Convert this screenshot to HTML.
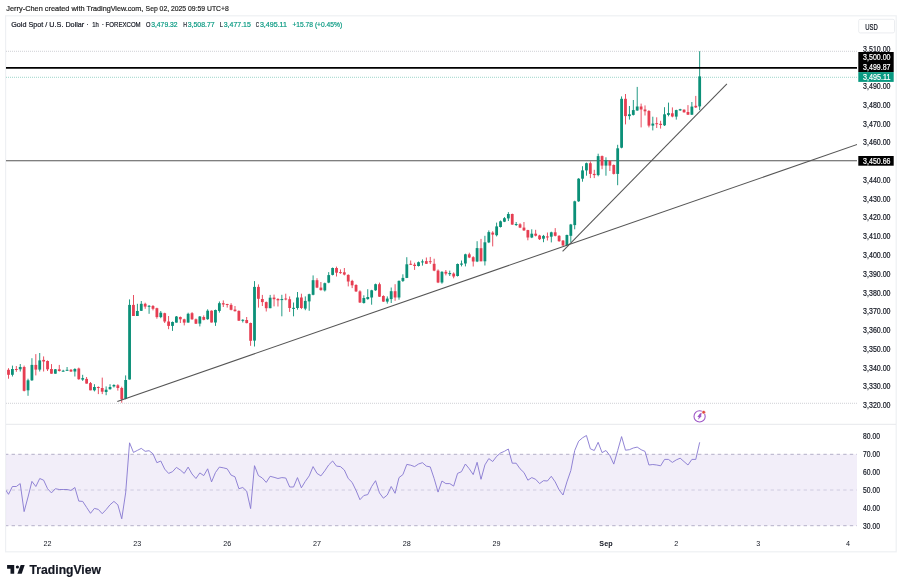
<!DOCTYPE html>
<html><head><meta charset="utf-8"><style>
html,body{margin:0;padding:0;background:#fff;}
body{width:903px;height:588px;overflow:hidden;}
svg{display:block;font-family:"Liberation Sans", sans-serif;filter:blur(0.3px);}
</style></head><body>
<svg width="903" height="588" viewBox="0 0 903 588">
<defs><clipPath id="pc"><rect x="6" y="16" width="851" height="408"/></clipPath><clipPath id="rc"><rect x="6" y="425" width="851" height="107"/></clipPath></defs>
<rect x="5.6" y="15.8" width="890.6" height="536" fill="none" stroke="#eef0f3" stroke-width="1.2"/>
<line x1="6" y1="424.3" x2="896" y2="424.3" stroke="#e6e8ec" stroke-width="1"/>
<g clip-path="url(#pc)">
<line x1="6" y1="51.3" x2="857" y2="51.3" stroke="#c3c5cc" stroke-width="0.8" stroke-dasharray="1 1"/>
<line x1="6" y1="403.3" x2="857" y2="403.3" stroke="#c3c5cc" stroke-width="0.8" stroke-dasharray="1 1"/>
<line x1="6" y1="77.3" x2="857" y2="77.3" stroke="#86cbbd" stroke-width="0.8" stroke-dasharray="1 1"/>
<line x1="6" y1="160.7" x2="858" y2="160.7" stroke="#555" stroke-width="1.1"/>
<rect x="8.05" y="368.20" width="0.9" height="10.50" fill="#e63e52"/>
<rect x="7.10" y="369.80" width="2.8" height="5.00" fill="#e63e52"/>
<rect x="11.96" y="365.60" width="0.9" height="10.90" fill="#0b9078"/>
<rect x="11.00" y="369.00" width="2.8" height="5.80" fill="#0b9078"/>
<rect x="15.86" y="366.00" width="0.9" height="5.80" fill="#e63e52"/>
<rect x="14.91" y="369.00" width="2.8" height="1.00" fill="#e63e52"/>
<rect x="19.77" y="364.00" width="0.9" height="7.50" fill="#0b9078"/>
<rect x="18.82" y="367.00" width="2.8" height="2.30" fill="#0b9078"/>
<rect x="23.67" y="365.60" width="0.9" height="25.80" fill="#e63e52"/>
<rect x="22.72" y="367.00" width="2.8" height="23.80" fill="#e63e52"/>
<rect x="27.57" y="378.70" width="0.9" height="17.10" fill="#0b9078"/>
<rect x="26.62" y="380.30" width="2.8" height="10.00" fill="#0b9078"/>
<rect x="31.48" y="358.20" width="0.9" height="22.70" fill="#0b9078"/>
<rect x="30.53" y="364.90" width="2.8" height="15.40" fill="#0b9078"/>
<rect x="35.38" y="354.10" width="0.9" height="21.30" fill="#e63e52"/>
<rect x="34.43" y="364.90" width="2.8" height="4.70" fill="#e63e52"/>
<rect x="39.29" y="353.00" width="0.9" height="18.50" fill="#0b9078"/>
<rect x="38.34" y="360.40" width="2.8" height="9.20" fill="#0b9078"/>
<rect x="43.19" y="356.40" width="0.9" height="15.10" fill="#e63e52"/>
<rect x="42.24" y="359.90" width="2.8" height="1.60" fill="#e63e52"/>
<rect x="47.10" y="360.40" width="0.9" height="10.60" fill="#e63e52"/>
<rect x="46.15" y="361.00" width="2.8" height="8.30" fill="#e63e52"/>
<rect x="51.00" y="364.10" width="0.9" height="9.60" fill="#e63e52"/>
<rect x="50.05" y="369.00" width="2.8" height="4.70" fill="#e63e52"/>
<rect x="54.91" y="369.00" width="0.9" height="4.70" fill="#0b9078"/>
<rect x="53.96" y="369.30" width="2.8" height="4.40" fill="#0b9078"/>
<rect x="58.81" y="364.90" width="0.9" height="6.60" fill="#e63e52"/>
<rect x="57.87" y="369.30" width="2.8" height="1.70" fill="#e63e52"/>
<rect x="62.72" y="369.80" width="0.9" height="1.70" fill="#0b9078"/>
<rect x="61.77" y="370.70" width="2.8" height="1.00" fill="#0b9078"/>
<rect x="66.62" y="367.00" width="0.9" height="3.70" fill="#0b9078"/>
<rect x="65.67" y="369.80" width="2.8" height="1.00" fill="#0b9078"/>
<rect x="70.53" y="369.00" width="0.9" height="3.00" fill="#e63e52"/>
<rect x="69.58" y="369.80" width="2.8" height="1.70" fill="#e63e52"/>
<rect x="74.43" y="368.20" width="0.9" height="8.30" fill="#0b9078"/>
<rect x="73.48" y="369.00" width="2.8" height="2.50" fill="#0b9078"/>
<rect x="78.34" y="367.60" width="0.9" height="12.20" fill="#e63e52"/>
<rect x="77.39" y="368.50" width="2.8" height="10.70" fill="#e63e52"/>
<rect x="82.24" y="374.80" width="0.9" height="6.10" fill="#0b9078"/>
<rect x="81.29" y="378.10" width="2.8" height="1.50" fill="#0b9078"/>
<rect x="86.15" y="377.00" width="0.9" height="6.60" fill="#e63e52"/>
<rect x="85.20" y="378.90" width="2.8" height="4.70" fill="#e63e52"/>
<rect x="90.05" y="382.00" width="0.9" height="8.30" fill="#e63e52"/>
<rect x="89.10" y="383.10" width="2.8" height="7.20" fill="#e63e52"/>
<rect x="93.96" y="384.20" width="0.9" height="7.20" fill="#0b9078"/>
<rect x="93.01" y="387.00" width="2.8" height="3.30" fill="#0b9078"/>
<rect x="97.86" y="386.40" width="0.9" height="7.70" fill="#e63e52"/>
<rect x="96.91" y="387.00" width="2.8" height="1.00" fill="#e63e52"/>
<rect x="101.77" y="377.60" width="0.9" height="16.50" fill="#e63e52"/>
<rect x="100.82" y="388.00" width="2.8" height="3.70" fill="#e63e52"/>
<rect x="105.67" y="386.40" width="0.9" height="8.80" fill="#0b9078"/>
<rect x="104.72" y="389.70" width="2.8" height="2.30" fill="#0b9078"/>
<rect x="109.58" y="384.20" width="0.9" height="5.50" fill="#0b9078"/>
<rect x="108.63" y="387.00" width="2.8" height="2.20" fill="#0b9078"/>
<rect x="113.48" y="384.20" width="0.9" height="3.30" fill="#0b9078"/>
<rect x="112.53" y="385.00" width="2.8" height="1.40" fill="#0b9078"/>
<rect x="117.39" y="384.20" width="0.9" height="6.40" fill="#e63e52"/>
<rect x="116.44" y="385.30" width="2.8" height="2.70" fill="#e63e52"/>
<rect x="121.29" y="386.70" width="0.9" height="16.00" fill="#e63e52"/>
<rect x="120.34" y="388.00" width="2.8" height="11.30" fill="#e63e52"/>
<rect x="125.20" y="375.40" width="0.9" height="23.90" fill="#0b9078"/>
<rect x="124.25" y="380.00" width="2.8" height="18.90" fill="#0b9078"/>
<rect x="129.11" y="299.40" width="0.9" height="80.10" fill="#0b9078"/>
<rect x="128.16" y="304.90" width="2.8" height="74.60" fill="#0b9078"/>
<rect x="133.01" y="295.00" width="0.9" height="21.00" fill="#e63e52"/>
<rect x="132.06" y="304.90" width="2.8" height="11.10" fill="#e63e52"/>
<rect x="136.91" y="303.80" width="0.9" height="12.20" fill="#0b9078"/>
<rect x="135.96" y="311.00" width="2.8" height="5.00" fill="#0b9078"/>
<rect x="140.82" y="301.00" width="0.9" height="10.00" fill="#0b9078"/>
<rect x="139.87" y="303.80" width="2.8" height="7.00" fill="#0b9078"/>
<rect x="144.72" y="302.70" width="0.9" height="6.10" fill="#e63e52"/>
<rect x="143.77" y="303.80" width="2.8" height="2.80" fill="#e63e52"/>
<rect x="148.63" y="305.00" width="0.9" height="8.80" fill="#0b9078"/>
<rect x="147.68" y="305.80" width="2.8" height="1.00" fill="#0b9078"/>
<rect x="152.53" y="305.00" width="0.9" height="5.40" fill="#e63e52"/>
<rect x="151.58" y="306.00" width="2.8" height="2.80" fill="#e63e52"/>
<rect x="156.44" y="307.70" width="0.9" height="11.00" fill="#e63e52"/>
<rect x="155.49" y="308.20" width="2.8" height="8.90" fill="#e63e52"/>
<rect x="160.34" y="311.00" width="0.9" height="7.20" fill="#0b9078"/>
<rect x="159.39" y="312.70" width="2.8" height="4.40" fill="#0b9078"/>
<rect x="164.25" y="312.70" width="0.9" height="10.30" fill="#e63e52"/>
<rect x="163.30" y="313.20" width="2.8" height="8.30" fill="#e63e52"/>
<rect x="168.16" y="316.00" width="0.9" height="13.20" fill="#e63e52"/>
<rect x="167.20" y="321.50" width="2.8" height="4.40" fill="#e63e52"/>
<rect x="172.06" y="321.50" width="0.9" height="9.40" fill="#0b9078"/>
<rect x="171.11" y="322.00" width="2.8" height="3.90" fill="#0b9078"/>
<rect x="175.97" y="316.00" width="0.9" height="6.60" fill="#0b9078"/>
<rect x="175.01" y="316.50" width="2.8" height="6.10" fill="#0b9078"/>
<rect x="179.87" y="316.50" width="0.9" height="6.50" fill="#e63e52"/>
<rect x="178.92" y="317.00" width="2.8" height="2.30" fill="#e63e52"/>
<rect x="183.78" y="318.70" width="0.9" height="6.70" fill="#e63e52"/>
<rect x="182.82" y="319.30" width="2.8" height="3.30" fill="#e63e52"/>
<rect x="187.68" y="312.70" width="0.9" height="9.90" fill="#0b9078"/>
<rect x="186.73" y="313.80" width="2.8" height="8.80" fill="#0b9078"/>
<rect x="191.59" y="312.10" width="0.9" height="7.70" fill="#e63e52"/>
<rect x="190.63" y="313.20" width="2.8" height="6.10" fill="#e63e52"/>
<rect x="195.49" y="318.50" width="0.9" height="5.50" fill="#e63e52"/>
<rect x="194.54" y="319.30" width="2.8" height="4.40" fill="#e63e52"/>
<rect x="199.40" y="316.00" width="0.9" height="10.40" fill="#0b9078"/>
<rect x="198.44" y="316.50" width="2.8" height="7.10" fill="#0b9078"/>
<rect x="203.30" y="315.40" width="0.9" height="4.90" fill="#e63e52"/>
<rect x="202.35" y="317.00" width="2.8" height="2.80" fill="#e63e52"/>
<rect x="207.21" y="309.30" width="0.9" height="10.50" fill="#0b9078"/>
<rect x="206.25" y="310.70" width="2.8" height="8.50" fill="#0b9078"/>
<rect x="211.11" y="310.40" width="0.9" height="12.10" fill="#e63e52"/>
<rect x="210.16" y="310.70" width="2.8" height="11.80" fill="#e63e52"/>
<rect x="215.02" y="309.60" width="0.9" height="16.30" fill="#0b9078"/>
<rect x="214.06" y="310.00" width="2.8" height="12.50" fill="#0b9078"/>
<rect x="218.92" y="301.50" width="0.9" height="11.10" fill="#0b9078"/>
<rect x="217.97" y="303.20" width="2.8" height="7.70" fill="#0b9078"/>
<rect x="222.82" y="300.40" width="0.9" height="6.60" fill="#e63e52"/>
<rect x="221.87" y="303.20" width="2.8" height="1.30" fill="#e63e52"/>
<rect x="226.73" y="303.80" width="0.9" height="3.80" fill="#e63e52"/>
<rect x="225.78" y="304.00" width="2.8" height="1.00" fill="#e63e52"/>
<rect x="230.63" y="303.20" width="0.9" height="7.20" fill="#e63e52"/>
<rect x="229.68" y="304.90" width="2.8" height="4.90" fill="#e63e52"/>
<rect x="234.54" y="306.00" width="0.9" height="5.50" fill="#e63e52"/>
<rect x="233.59" y="309.60" width="2.8" height="1.60" fill="#e63e52"/>
<rect x="238.44" y="310.40" width="0.9" height="10.50" fill="#e63e52"/>
<rect x="237.49" y="310.90" width="2.8" height="9.80" fill="#e63e52"/>
<rect x="242.35" y="319.20" width="0.9" height="3.30" fill="#0b9078"/>
<rect x="241.40" y="319.80" width="2.8" height="1.00" fill="#0b9078"/>
<rect x="246.25" y="317.00" width="0.9" height="6.30" fill="#e63e52"/>
<rect x="245.30" y="320.00" width="2.8" height="3.10" fill="#e63e52"/>
<rect x="250.16" y="322.60" width="0.9" height="23.20" fill="#e63e52"/>
<rect x="249.21" y="323.00" width="2.8" height="17.80" fill="#e63e52"/>
<rect x="254.06" y="281.10" width="0.9" height="65.40" fill="#0b9078"/>
<rect x="253.11" y="286.90" width="2.8" height="53.70" fill="#0b9078"/>
<rect x="257.97" y="284.40" width="0.9" height="23.20" fill="#e63e52"/>
<rect x="257.02" y="286.90" width="2.8" height="11.90" fill="#e63e52"/>
<rect x="261.88" y="294.90" width="0.9" height="11.10" fill="#e63e52"/>
<rect x="260.93" y="299.00" width="2.8" height="3.10" fill="#e63e52"/>
<rect x="265.78" y="301.50" width="0.9" height="10.00" fill="#e63e52"/>
<rect x="264.83" y="302.10" width="2.8" height="6.10" fill="#e63e52"/>
<rect x="269.69" y="294.90" width="0.9" height="13.30" fill="#0b9078"/>
<rect x="268.74" y="297.70" width="2.8" height="10.50" fill="#0b9078"/>
<rect x="273.59" y="294.60" width="0.9" height="11.80" fill="#e63e52"/>
<rect x="272.64" y="297.60" width="2.8" height="1.60" fill="#e63e52"/>
<rect x="277.50" y="298.10" width="0.9" height="8.40" fill="#e63e52"/>
<rect x="276.55" y="299.00" width="2.8" height="1.30" fill="#e63e52"/>
<rect x="281.40" y="294.80" width="0.9" height="21.50" fill="#0b9078"/>
<rect x="280.45" y="299.00" width="2.8" height="1.10" fill="#0b9078"/>
<rect x="285.31" y="293.70" width="0.9" height="6.60" fill="#e63e52"/>
<rect x="284.36" y="298.50" width="2.8" height="1.00" fill="#e63e52"/>
<rect x="289.21" y="296.40" width="0.9" height="15.50" fill="#e63e52"/>
<rect x="288.26" y="299.20" width="2.8" height="8.80" fill="#e63e52"/>
<rect x="293.12" y="302.50" width="0.9" height="13.80" fill="#0b9078"/>
<rect x="292.17" y="307.80" width="2.8" height="1.10" fill="#0b9078"/>
<rect x="297.02" y="292.00" width="0.9" height="17.70" fill="#0b9078"/>
<rect x="296.07" y="297.50" width="2.8" height="10.50" fill="#0b9078"/>
<rect x="300.93" y="293.70" width="0.9" height="15.40" fill="#e63e52"/>
<rect x="299.98" y="297.50" width="2.8" height="10.50" fill="#e63e52"/>
<rect x="304.83" y="296.40" width="0.9" height="13.80" fill="#0b9078"/>
<rect x="303.88" y="300.90" width="2.8" height="7.70" fill="#0b9078"/>
<rect x="308.74" y="293.70" width="0.9" height="17.10" fill="#0b9078"/>
<rect x="307.79" y="294.20" width="2.8" height="7.20" fill="#0b9078"/>
<rect x="312.64" y="275.40" width="0.9" height="19.90" fill="#0b9078"/>
<rect x="311.69" y="280.20" width="2.8" height="14.60" fill="#0b9078"/>
<rect x="316.55" y="278.20" width="0.9" height="9.90" fill="#e63e52"/>
<rect x="315.60" y="280.20" width="2.8" height="7.40" fill="#e63e52"/>
<rect x="320.45" y="282.00" width="0.9" height="8.60" fill="#e63e52"/>
<rect x="319.50" y="287.60" width="2.8" height="2.50" fill="#e63e52"/>
<rect x="324.36" y="282.60" width="0.9" height="8.90" fill="#0b9078"/>
<rect x="323.41" y="283.20" width="2.8" height="7.20" fill="#0b9078"/>
<rect x="328.26" y="272.10" width="0.9" height="11.10" fill="#0b9078"/>
<rect x="327.31" y="275.10" width="2.8" height="7.50" fill="#0b9078"/>
<rect x="332.17" y="267.50" width="0.9" height="7.90" fill="#0b9078"/>
<rect x="331.22" y="268.00" width="2.8" height="6.90" fill="#0b9078"/>
<rect x="336.07" y="266.60" width="0.9" height="9.90" fill="#e63e52"/>
<rect x="335.12" y="268.00" width="2.8" height="4.70" fill="#e63e52"/>
<rect x="339.98" y="269.40" width="0.9" height="4.40" fill="#e63e52"/>
<rect x="339.03" y="272.10" width="2.8" height="1.00" fill="#e63e52"/>
<rect x="343.88" y="268.00" width="0.9" height="7.40" fill="#e63e52"/>
<rect x="342.93" y="272.30" width="2.8" height="2.30" fill="#e63e52"/>
<rect x="347.78" y="274.30" width="0.9" height="12.10" fill="#e63e52"/>
<rect x="346.83" y="274.90" width="2.8" height="6.60" fill="#e63e52"/>
<rect x="351.69" y="279.80" width="0.9" height="8.30" fill="#e63e52"/>
<rect x="350.74" y="280.90" width="2.8" height="4.40" fill="#e63e52"/>
<rect x="355.59" y="284.20" width="0.9" height="7.80" fill="#e63e52"/>
<rect x="354.64" y="285.00" width="2.8" height="6.40" fill="#e63e52"/>
<rect x="359.50" y="290.30" width="0.9" height="12.70" fill="#e63e52"/>
<rect x="358.55" y="291.40" width="2.8" height="11.10" fill="#e63e52"/>
<rect x="363.40" y="295.30" width="0.9" height="8.30" fill="#0b9078"/>
<rect x="362.45" y="298.00" width="2.8" height="5.00" fill="#0b9078"/>
<rect x="367.31" y="289.20" width="0.9" height="10.50" fill="#0b9078"/>
<rect x="366.36" y="297.00" width="2.8" height="2.10" fill="#0b9078"/>
<rect x="371.21" y="289.80" width="0.9" height="14.90" fill="#0b9078"/>
<rect x="370.26" y="290.30" width="2.8" height="7.20" fill="#0b9078"/>
<rect x="375.12" y="283.60" width="0.9" height="7.20" fill="#0b9078"/>
<rect x="374.17" y="284.20" width="2.8" height="6.10" fill="#0b9078"/>
<rect x="379.02" y="282.60" width="0.9" height="14.30" fill="#e63e52"/>
<rect x="378.07" y="284.20" width="2.8" height="12.50" fill="#e63e52"/>
<rect x="382.93" y="295.30" width="0.9" height="6.60" fill="#e63e52"/>
<rect x="381.98" y="296.00" width="2.8" height="5.60" fill="#e63e52"/>
<rect x="386.83" y="296.40" width="0.9" height="7.20" fill="#0b9078"/>
<rect x="385.88" y="298.60" width="2.8" height="3.00" fill="#0b9078"/>
<rect x="390.74" y="287.50" width="0.9" height="15.50" fill="#0b9078"/>
<rect x="389.79" y="291.20" width="2.8" height="7.90" fill="#0b9078"/>
<rect x="394.64" y="284.20" width="0.9" height="16.60" fill="#e63e52"/>
<rect x="393.69" y="291.20" width="2.8" height="6.30" fill="#e63e52"/>
<rect x="398.55" y="280.40" width="0.9" height="19.30" fill="#0b9078"/>
<rect x="397.60" y="280.90" width="2.8" height="16.60" fill="#0b9078"/>
<rect x="402.45" y="274.30" width="0.9" height="7.70" fill="#0b9078"/>
<rect x="401.50" y="277.90" width="2.8" height="3.00" fill="#0b9078"/>
<rect x="406.36" y="257.20" width="0.9" height="20.90" fill="#0b9078"/>
<rect x="405.41" y="264.30" width="2.8" height="13.60" fill="#0b9078"/>
<rect x="410.26" y="260.50" width="0.9" height="4.40" fill="#e63e52"/>
<rect x="409.31" y="263.80" width="2.8" height="1.00" fill="#e63e52"/>
<rect x="414.17" y="262.70" width="0.9" height="7.20" fill="#e63e52"/>
<rect x="413.22" y="264.70" width="2.8" height="1.30" fill="#e63e52"/>
<rect x="418.07" y="261.50" width="0.9" height="5.00" fill="#0b9078"/>
<rect x="417.12" y="262.20" width="2.8" height="3.80" fill="#0b9078"/>
<rect x="421.98" y="259.40" width="0.9" height="6.20" fill="#0b9078"/>
<rect x="421.03" y="261.40" width="2.8" height="1.00" fill="#0b9078"/>
<rect x="425.88" y="257.50" width="0.9" height="6.50" fill="#e63e52"/>
<rect x="424.94" y="261.10" width="2.8" height="2.70" fill="#e63e52"/>
<rect x="429.79" y="256.90" width="0.9" height="7.10" fill="#e63e52"/>
<rect x="428.84" y="261.20" width="2.8" height="1.00" fill="#e63e52"/>
<rect x="433.69" y="258.70" width="0.9" height="12.50" fill="#e63e52"/>
<rect x="432.75" y="263.80" width="2.8" height="6.80" fill="#e63e52"/>
<rect x="437.60" y="269.40" width="0.9" height="13.70" fill="#e63e52"/>
<rect x="436.65" y="270.60" width="2.8" height="11.90" fill="#e63e52"/>
<rect x="441.50" y="271.20" width="0.9" height="12.50" fill="#0b9078"/>
<rect x="440.56" y="271.80" width="2.8" height="10.70" fill="#0b9078"/>
<rect x="445.41" y="270.00" width="0.9" height="5.40" fill="#e63e52"/>
<rect x="444.46" y="271.80" width="2.8" height="1.80" fill="#e63e52"/>
<rect x="449.31" y="270.60" width="0.9" height="5.40" fill="#0b9078"/>
<rect x="448.37" y="273.00" width="2.8" height="1.20" fill="#0b9078"/>
<rect x="453.22" y="272.40" width="0.9" height="5.90" fill="#e63e52"/>
<rect x="452.27" y="273.60" width="2.8" height="2.90" fill="#e63e52"/>
<rect x="457.12" y="263.50" width="0.9" height="13.00" fill="#0b9078"/>
<rect x="456.18" y="264.00" width="2.8" height="12.00" fill="#0b9078"/>
<rect x="461.03" y="260.50" width="0.9" height="5.90" fill="#0b9078"/>
<rect x="460.08" y="263.50" width="2.8" height="1.20" fill="#0b9078"/>
<rect x="464.94" y="253.70" width="0.9" height="12.70" fill="#0b9078"/>
<rect x="463.99" y="254.30" width="2.8" height="9.20" fill="#0b9078"/>
<rect x="468.84" y="252.70" width="0.9" height="5.40" fill="#e63e52"/>
<rect x="467.89" y="254.30" width="2.8" height="3.20" fill="#e63e52"/>
<rect x="472.75" y="256.20" width="0.9" height="10.30" fill="#e63e52"/>
<rect x="471.80" y="257.20" width="2.8" height="4.30" fill="#e63e52"/>
<rect x="476.65" y="241.20" width="0.9" height="20.90" fill="#0b9078"/>
<rect x="475.70" y="248.10" width="2.8" height="13.40" fill="#0b9078"/>
<rect x="480.56" y="238.90" width="0.9" height="22.40" fill="#e63e52"/>
<rect x="479.61" y="248.20" width="2.8" height="13.10" fill="#e63e52"/>
<rect x="484.46" y="235.80" width="0.9" height="29.70" fill="#0b9078"/>
<rect x="483.51" y="242.30" width="2.8" height="19.00" fill="#0b9078"/>
<rect x="488.37" y="230.40" width="0.9" height="12.70" fill="#0b9078"/>
<rect x="487.42" y="232.10" width="2.8" height="10.30" fill="#0b9078"/>
<rect x="492.27" y="231.20" width="0.9" height="15.20" fill="#e63e52"/>
<rect x="491.32" y="232.60" width="2.8" height="2.00" fill="#e63e52"/>
<rect x="496.18" y="222.60" width="0.9" height="13.80" fill="#0b9078"/>
<rect x="495.23" y="226.40" width="2.8" height="8.80" fill="#0b9078"/>
<rect x="500.08" y="220.50" width="0.9" height="7.00" fill="#0b9078"/>
<rect x="499.13" y="221.30" width="2.8" height="5.70" fill="#0b9078"/>
<rect x="503.99" y="217.10" width="0.9" height="5.00" fill="#0b9078"/>
<rect x="503.04" y="218.20" width="2.8" height="3.50" fill="#0b9078"/>
<rect x="507.89" y="212.10" width="0.9" height="8.90" fill="#0b9078"/>
<rect x="506.94" y="214.00" width="2.8" height="4.40" fill="#0b9078"/>
<rect x="511.79" y="213.60" width="0.9" height="11.20" fill="#e63e52"/>
<rect x="510.84" y="214.00" width="2.8" height="10.60" fill="#e63e52"/>
<rect x="515.70" y="222.00" width="0.9" height="4.00" fill="#0b9078"/>
<rect x="514.75" y="224.00" width="2.8" height="1.00" fill="#0b9078"/>
<rect x="519.60" y="223.20" width="0.9" height="4.90" fill="#e63e52"/>
<rect x="518.65" y="224.30" width="2.8" height="3.30" fill="#e63e52"/>
<rect x="523.51" y="222.00" width="0.9" height="8.90" fill="#e63e52"/>
<rect x="522.56" y="227.60" width="2.8" height="2.80" fill="#e63e52"/>
<rect x="527.41" y="229.80" width="0.9" height="10.50" fill="#e63e52"/>
<rect x="526.47" y="230.10" width="2.8" height="7.40" fill="#e63e52"/>
<rect x="531.32" y="229.30" width="0.9" height="8.80" fill="#0b9078"/>
<rect x="530.37" y="233.70" width="2.8" height="3.80" fill="#0b9078"/>
<rect x="535.22" y="229.80" width="0.9" height="6.60" fill="#e63e52"/>
<rect x="534.27" y="233.70" width="2.8" height="2.00" fill="#e63e52"/>
<rect x="539.13" y="234.80" width="0.9" height="5.20" fill="#e63e52"/>
<rect x="538.18" y="235.50" width="2.8" height="3.70" fill="#e63e52"/>
<rect x="543.03" y="234.90" width="0.9" height="7.30" fill="#0b9078"/>
<rect x="542.09" y="235.90" width="2.8" height="2.80" fill="#0b9078"/>
<rect x="546.94" y="232.50" width="0.9" height="8.00" fill="#e63e52"/>
<rect x="545.99" y="236.40" width="2.8" height="1.10" fill="#e63e52"/>
<rect x="550.84" y="231.70" width="0.9" height="10.70" fill="#0b9078"/>
<rect x="549.89" y="232.30" width="2.8" height="4.40" fill="#0b9078"/>
<rect x="554.75" y="228.10" width="0.9" height="8.30" fill="#e63e52"/>
<rect x="553.80" y="232.30" width="2.8" height="3.50" fill="#e63e52"/>
<rect x="558.65" y="235.20" width="0.9" height="6.60" fill="#e63e52"/>
<rect x="557.71" y="235.80" width="2.8" height="5.40" fill="#e63e52"/>
<rect x="562.56" y="240.00" width="0.9" height="6.00" fill="#e63e52"/>
<rect x="561.61" y="240.60" width="2.8" height="4.80" fill="#e63e52"/>
<rect x="566.46" y="234.60" width="0.9" height="11.40" fill="#0b9078"/>
<rect x="565.51" y="235.00" width="2.8" height="10.40" fill="#0b9078"/>
<rect x="570.37" y="223.90" width="0.9" height="18.50" fill="#0b9078"/>
<rect x="569.42" y="224.50" width="2.8" height="11.30" fill="#0b9078"/>
<rect x="574.27" y="200.70" width="0.9" height="28.60" fill="#0b9078"/>
<rect x="573.33" y="201.30" width="2.8" height="23.80" fill="#0b9078"/>
<rect x="578.18" y="178.10" width="0.9" height="23.80" fill="#0b9078"/>
<rect x="577.23" y="178.70" width="2.8" height="22.60" fill="#0b9078"/>
<rect x="582.08" y="166.20" width="0.9" height="15.50" fill="#0b9078"/>
<rect x="581.13" y="170.40" width="2.8" height="8.30" fill="#0b9078"/>
<rect x="585.99" y="162.60" width="0.9" height="13.10" fill="#0b9078"/>
<rect x="585.04" y="163.20" width="2.8" height="7.20" fill="#0b9078"/>
<rect x="589.89" y="161.40" width="0.9" height="16.70" fill="#e63e52"/>
<rect x="588.95" y="163.20" width="2.8" height="10.70" fill="#e63e52"/>
<rect x="593.80" y="169.80" width="0.9" height="8.30" fill="#e63e52"/>
<rect x="592.85" y="173.90" width="2.8" height="1.20" fill="#e63e52"/>
<rect x="597.70" y="153.70" width="0.9" height="22.60" fill="#0b9078"/>
<rect x="596.75" y="156.10" width="2.8" height="19.00" fill="#0b9078"/>
<rect x="601.61" y="155.50" width="0.9" height="13.70" fill="#e63e52"/>
<rect x="600.66" y="156.10" width="2.8" height="9.50" fill="#e63e52"/>
<rect x="605.51" y="157.30" width="0.9" height="18.40" fill="#0b9078"/>
<rect x="604.56" y="160.20" width="2.8" height="5.40" fill="#0b9078"/>
<rect x="609.42" y="160.20" width="0.9" height="10.80" fill="#e63e52"/>
<rect x="608.47" y="160.80" width="2.8" height="4.80" fill="#e63e52"/>
<rect x="613.32" y="164.40" width="0.9" height="10.10" fill="#e63e52"/>
<rect x="612.38" y="165.00" width="2.8" height="8.90" fill="#e63e52"/>
<rect x="617.23" y="144.80" width="0.9" height="40.40" fill="#0b9078"/>
<rect x="616.28" y="148.30" width="2.8" height="25.60" fill="#0b9078"/>
<rect x="621.13" y="96.40" width="0.9" height="51.90" fill="#0b9078"/>
<rect x="620.18" y="98.80" width="2.8" height="48.90" fill="#0b9078"/>
<rect x="625.04" y="94.00" width="0.9" height="30.40" fill="#e63e52"/>
<rect x="624.09" y="98.80" width="2.8" height="17.30" fill="#e63e52"/>
<rect x="628.94" y="106.00" width="0.9" height="13.60" fill="#0b9078"/>
<rect x="628.00" y="114.30" width="2.8" height="1.80" fill="#0b9078"/>
<rect x="632.85" y="100.00" width="0.9" height="15.50" fill="#0b9078"/>
<rect x="631.90" y="110.10" width="2.8" height="4.80" fill="#0b9078"/>
<rect x="636.75" y="86.90" width="0.9" height="23.80" fill="#0b9078"/>
<rect x="635.80" y="106.50" width="2.8" height="4.00" fill="#0b9078"/>
<rect x="640.66" y="103.60" width="0.9" height="23.80" fill="#e63e52"/>
<rect x="639.71" y="106.50" width="2.8" height="3.00" fill="#e63e52"/>
<rect x="644.56" y="105.40" width="0.9" height="10.10" fill="#e63e52"/>
<rect x="643.62" y="109.50" width="2.8" height="1.80" fill="#e63e52"/>
<rect x="648.47" y="110.10" width="0.9" height="17.30" fill="#e63e52"/>
<rect x="647.52" y="111.00" width="2.8" height="14.60" fill="#e63e52"/>
<rect x="652.37" y="116.70" width="0.9" height="13.70" fill="#0b9078"/>
<rect x="651.42" y="123.60" width="2.8" height="2.00" fill="#0b9078"/>
<rect x="656.28" y="117.30" width="0.9" height="10.70" fill="#e63e52"/>
<rect x="655.33" y="123.20" width="2.8" height="1.00" fill="#e63e52"/>
<rect x="660.18" y="120.80" width="0.9" height="7.80" fill="#e63e52"/>
<rect x="659.24" y="123.80" width="2.8" height="1.20" fill="#e63e52"/>
<rect x="664.09" y="107.20" width="0.9" height="18.80" fill="#0b9078"/>
<rect x="663.14" y="114.30" width="2.8" height="11.00" fill="#0b9078"/>
<rect x="667.99" y="102.60" width="0.9" height="13.70" fill="#0b9078"/>
<rect x="667.04" y="113.10" width="2.8" height="1.80" fill="#0b9078"/>
<rect x="671.90" y="107.40" width="0.9" height="9.90" fill="#e63e52"/>
<rect x="670.95" y="113.30" width="2.8" height="3.20" fill="#e63e52"/>
<rect x="675.80" y="109.70" width="0.9" height="9.90" fill="#0b9078"/>
<rect x="674.86" y="110.10" width="2.8" height="6.50" fill="#0b9078"/>
<rect x="679.71" y="108.80" width="0.9" height="2.00" fill="#0b9078"/>
<rect x="678.76" y="109.20" width="2.8" height="1.20" fill="#0b9078"/>
<rect x="683.61" y="109.30" width="0.9" height="3.40" fill="#e63e52"/>
<rect x="682.66" y="109.70" width="2.8" height="2.60" fill="#e63e52"/>
<rect x="687.52" y="105.10" width="0.9" height="9.90" fill="#e63e52"/>
<rect x="686.57" y="112.00" width="2.8" height="2.70" fill="#e63e52"/>
<rect x="691.42" y="102.00" width="0.9" height="13.00" fill="#0b9078"/>
<rect x="690.48" y="106.60" width="2.8" height="8.10" fill="#0b9078"/>
<rect x="695.33" y="95.90" width="0.9" height="12.10" fill="#e63e52"/>
<rect x="694.38" y="105.80" width="2.8" height="1.60" fill="#e63e52"/>
<rect x="699.23" y="51.20" width="0.9" height="59.00" fill="#0b9078"/>
<rect x="698.28" y="76.40" width="2.8" height="30.00" fill="#0b9078"/>
<line x1="6" y1="67.8" x2="858" y2="67.8" stroke="#000" stroke-width="1.8"/>
<line x1="117.3" y1="401.4" x2="857.6" y2="144.3" stroke="#555" stroke-width="1.05"/>
<line x1="562.6" y1="251.3" x2="726.9" y2="83.8" stroke="#555" stroke-width="1.05"/>
</g>
<g clip-path="url(#rc)">
<rect x="6" y="454.3" width="851" height="71.4" fill="rgba(126,87,194,0.1)"/>
<line x1="6" y1="454.3" x2="857" y2="454.3" stroke="#b5b0c9" stroke-width="1" stroke-dasharray="3.4 3.2" stroke-dashoffset="1.0"/>
<line x1="6" y1="490" x2="857" y2="490" stroke="#d0cce0" stroke-width="1" stroke-dasharray="3.4 3.2" stroke-dashoffset="1.0"/>
<line x1="6" y1="525.7" x2="857" y2="525.7" stroke="#b5b0c9" stroke-width="1" stroke-dasharray="3.4 3.2" stroke-dashoffset="1.0"/>
<polyline points="4.60,488.30 8.50,494.30 12.40,486.50 16.31,486.50 20.21,483.60 24.12,511.60 28.02,497.00 31.93,481.40 35.83,486.50 39.74,478.50 43.64,480.20 47.55,488.70 51.45,492.90 55.36,488.70 59.27,489.50 63.17,489.50 67.07,489.50 70.98,490.40 74.88,487.50 78.79,501.10 82.69,501.40 86.60,507.40 90.50,513.30 94.41,508.40 98.31,509.40 102.22,513.70 106.12,509.60 110.03,504.80 113.93,501.40 117.84,504.80 121.74,518.80 125.65,492.90 129.56,442.80 133.46,452.40 137.36,450.40 141.27,448.40 145.17,451.30 149.08,450.70 152.98,453.80 156.89,462.70 160.79,461.00 164.70,469.10 168.60,473.40 172.51,471.70 176.41,467.40 180.32,470.00 184.22,473.40 188.13,467.10 192.03,474.00 195.94,478.50 199.84,472.90 203.75,475.60 207.66,468.80 211.56,481.90 215.47,472.50 219.37,467.10 223.27,467.80 227.18,468.80 231.08,475.10 234.99,476.80 238.89,488.70 242.80,487.50 246.70,491.20 250.61,508.60 254.51,465.70 258.42,475.60 262.32,478.00 266.23,482.40 270.13,476.30 274.04,477.30 277.94,478.50 281.85,477.60 285.75,478.00 289.66,487.00 293.56,487.00 297.47,477.60 301.38,487.80 305.28,481.40 309.19,475.90 313.09,466.60 317.00,473.40 320.90,475.90 324.81,470.80 328.71,464.90 332.62,461.00 336.52,466.10 340.43,466.60 344.33,470.00 348.23,478.50 352.14,482.40 356.04,490.40 359.95,499.70 363.85,495.50 367.76,494.60 371.66,486.50 375.57,480.70 379.47,492.90 383.38,498.20 387.28,495.00 391.19,486.50 395.09,493.30 399.00,477.60 402.90,474.60 406.81,464.40 410.71,465.20 414.62,466.60 418.52,464.00 422.43,462.70 426.33,466.10 430.24,466.90 434.14,478.50 438.05,492.10 441.95,481.00 445.86,483.60 449.76,483.60 453.67,486.10 457.57,473.40 461.48,471.70 465.38,464.00 469.29,468.80 473.19,474.60 477.10,462.30 481.00,479.30 484.91,464.90 488.81,458.60 492.72,461.50 496.62,456.40 500.53,453.00 504.44,451.30 508.34,449.00 512.24,463.20 516.15,463.20 520.05,468.80 523.96,472.50 527.87,480.20 531.77,477.60 535.67,479.30 539.58,483.60 543.49,480.70 547.39,481.00 551.29,476.30 555.20,481.90 559.11,489.90 563.01,495.00 566.91,481.90 570.82,470.60 574.73,450.50 578.63,441.20 582.53,437.80 586.44,435.50 590.35,448.80 594.25,450.50 598.15,442.30 602.06,452.60 605.96,450.50 609.87,455.60 613.77,464.10 617.68,450.50 621.58,436.60 625.49,450.20 629.39,449.70 633.30,448.00 637.20,447.10 641.11,449.70 645.01,451.40 648.92,465.00 652.82,464.50 656.73,465.00 660.63,465.80 664.54,459.40 668.44,459.40 672.35,462.40 676.25,459.90 680.16,458.20 684.06,461.60 687.97,465.00 691.88,459.40 695.78,459.40 699.68,442.30" fill="none" stroke="#8677d0" stroke-width="0.9" stroke-linejoin="round"/>
</g>
<g transform="translate(699.6,416.4)"><circle r="5.6" fill="#fff" stroke="#9d55c6" stroke-width="1.05"/><path d="M0.5,-3.2 L2.3,-3.2 L1.2,-0.7 L2.4,-0.7 L-1.6,3.4 L-0.7,0.6 L-2.3,0.6 Z" fill="#9d55c6"/><circle cx="4.1" cy="-4.2" r="1.75" fill="#e0473c" stroke="#fff" stroke-width="0.5"/></g>
<text x="863.10" y="51.60" font-size="8.2" fill="#131722" stroke="#131722" stroke-width="0.2" font-weight="normal" textLength="27.40" lengthAdjust="spacingAndGlyphs">3,510.00</text>
<text x="863.10" y="89.13" font-size="8.2" fill="#131722" stroke="#131722" stroke-width="0.2" font-weight="normal" textLength="27.40" lengthAdjust="spacingAndGlyphs">3,490.00</text>
<text x="863.10" y="107.89" font-size="8.2" fill="#131722" stroke="#131722" stroke-width="0.2" font-weight="normal" textLength="27.40" lengthAdjust="spacingAndGlyphs">3,480.00</text>
<text x="863.10" y="126.65" font-size="8.2" fill="#131722" stroke="#131722" stroke-width="0.2" font-weight="normal" textLength="27.40" lengthAdjust="spacingAndGlyphs">3,470.00</text>
<text x="863.10" y="145.41" font-size="8.2" fill="#131722" stroke="#131722" stroke-width="0.2" font-weight="normal" textLength="27.40" lengthAdjust="spacingAndGlyphs">3,460.00</text>
<text x="863.10" y="182.94" font-size="8.2" fill="#131722" stroke="#131722" stroke-width="0.2" font-weight="normal" textLength="27.40" lengthAdjust="spacingAndGlyphs">3,440.00</text>
<text x="863.10" y="201.70" font-size="8.2" fill="#131722" stroke="#131722" stroke-width="0.2" font-weight="normal" textLength="27.40" lengthAdjust="spacingAndGlyphs">3,430.00</text>
<text x="863.10" y="220.47" font-size="8.2" fill="#131722" stroke="#131722" stroke-width="0.2" font-weight="normal" textLength="27.40" lengthAdjust="spacingAndGlyphs">3,420.00</text>
<text x="863.10" y="239.23" font-size="8.2" fill="#131722" stroke="#131722" stroke-width="0.2" font-weight="normal" textLength="27.40" lengthAdjust="spacingAndGlyphs">3,410.00</text>
<text x="863.10" y="257.99" font-size="8.2" fill="#131722" stroke="#131722" stroke-width="0.2" font-weight="normal" textLength="27.40" lengthAdjust="spacingAndGlyphs">3,400.00</text>
<text x="863.10" y="276.76" font-size="8.2" fill="#131722" stroke="#131722" stroke-width="0.2" font-weight="normal" textLength="27.40" lengthAdjust="spacingAndGlyphs">3,390.00</text>
<text x="863.10" y="295.52" font-size="8.2" fill="#131722" stroke="#131722" stroke-width="0.2" font-weight="normal" textLength="27.40" lengthAdjust="spacingAndGlyphs">3,380.00</text>
<text x="863.10" y="314.28" font-size="8.2" fill="#131722" stroke="#131722" stroke-width="0.2" font-weight="normal" textLength="27.40" lengthAdjust="spacingAndGlyphs">3,370.00</text>
<text x="863.10" y="333.04" font-size="8.2" fill="#131722" stroke="#131722" stroke-width="0.2" font-weight="normal" textLength="27.40" lengthAdjust="spacingAndGlyphs">3,360.00</text>
<text x="863.10" y="351.81" font-size="8.2" fill="#131722" stroke="#131722" stroke-width="0.2" font-weight="normal" textLength="27.40" lengthAdjust="spacingAndGlyphs">3,350.00</text>
<text x="863.10" y="370.57" font-size="8.2" fill="#131722" stroke="#131722" stroke-width="0.2" font-weight="normal" textLength="27.40" lengthAdjust="spacingAndGlyphs">3,340.00</text>
<text x="863.10" y="389.33" font-size="8.2" fill="#131722" stroke="#131722" stroke-width="0.2" font-weight="normal" textLength="27.40" lengthAdjust="spacingAndGlyphs">3,330.00</text>
<text x="863.10" y="408.10" font-size="8.2" fill="#131722" stroke="#131722" stroke-width="0.2" font-weight="normal" textLength="27.40" lengthAdjust="spacingAndGlyphs">3,320.00</text>
<rect x="858.3" y="52" width="35.4" height="10" fill="#000"/>
<text x="863.10" y="60.40" font-size="8.2" fill="#fff" stroke="#fff" stroke-width="0.2" font-weight="normal" textLength="27.40" lengthAdjust="spacingAndGlyphs">3,500.00</text>
<rect x="858.3" y="62" width="35.4" height="10.099999999999994" fill="#000"/>
<text x="863.10" y="70.45" font-size="8.2" fill="#fff" stroke="#fff" stroke-width="0.2" font-weight="normal" textLength="27.40" lengthAdjust="spacingAndGlyphs">3,499.87</text>
<rect x="858.3" y="72.1" width="35.4" height="9.800000000000011" fill="#089981"/>
<text x="863.10" y="80.40" font-size="8.2" fill="#fff" stroke="#fff" stroke-width="0.2" font-weight="normal" textLength="27.40" lengthAdjust="spacingAndGlyphs">3,495.11</text>
<rect x="858.3" y="156" width="35.4" height="9.699999999999989" fill="#000"/>
<text x="863.10" y="164.25" font-size="8.2" fill="#fff" stroke="#fff" stroke-width="0.2" font-weight="normal" textLength="27.40" lengthAdjust="spacingAndGlyphs">3,450.66</text>
<rect x="858.7" y="19.3" width="35.8" height="13.6" rx="1.5" fill="#fff" stroke="#e6e8ec" stroke-width="0.8"/>
<text x="865.30" y="29.8" font-size="8.2" fill="#131722" stroke="#131722" stroke-width="0.2" font-weight="normal" textLength="12.60" lengthAdjust="spacingAndGlyphs">USD</text>
<text x="863.10" y="439.40" font-size="8.2" fill="#131722" stroke="#131722" stroke-width="0.2" font-weight="normal" textLength="16.90" lengthAdjust="spacingAndGlyphs">80.00</text>
<text x="863.10" y="456.70" font-size="8.2" fill="#131722" stroke="#131722" stroke-width="0.2" font-weight="normal" textLength="16.90" lengthAdjust="spacingAndGlyphs">70.00</text>
<text x="863.10" y="475.10" font-size="8.2" fill="#131722" stroke="#131722" stroke-width="0.2" font-weight="normal" textLength="16.90" lengthAdjust="spacingAndGlyphs">60.00</text>
<text x="863.10" y="492.90" font-size="8.2" fill="#131722" stroke="#131722" stroke-width="0.2" font-weight="normal" textLength="16.90" lengthAdjust="spacingAndGlyphs">50.00</text>
<text x="863.10" y="511.40" font-size="8.2" fill="#131722" stroke="#131722" stroke-width="0.2" font-weight="normal" textLength="16.90" lengthAdjust="spacingAndGlyphs">40.00</text>
<text x="863.10" y="528.90" font-size="8.2" fill="#131722" stroke="#131722" stroke-width="0.2" font-weight="normal" textLength="16.90" lengthAdjust="spacingAndGlyphs">30.00</text>
<text x="47.55" y="546.0" font-size="7.2" fill="#131722" text-anchor="middle" font-weight="normal" >22</text>
<text x="137.36" y="546.0" font-size="7.2" fill="#131722" text-anchor="middle" font-weight="normal" >23</text>
<text x="227.18" y="546.0" font-size="7.2" fill="#131722" text-anchor="middle" font-weight="normal" >26</text>
<text x="317.00" y="546.0" font-size="7.2" fill="#131722" text-anchor="middle" font-weight="normal" >27</text>
<text x="406.81" y="546.0" font-size="7.2" fill="#131722" text-anchor="middle" font-weight="normal" >28</text>
<text x="496.62" y="546.0" font-size="7.2" fill="#131722" text-anchor="middle" font-weight="normal" >29</text>
<text x="605.96" y="546.0" font-size="7.2" fill="#131722" text-anchor="middle" font-weight="bold" >Sep</text>
<text x="676.25" y="546.0" font-size="7.2" fill="#131722" text-anchor="middle" font-weight="normal" >2</text>
<text x="758.26" y="546.0" font-size="7.2" fill="#131722" text-anchor="middle" font-weight="normal" >3</text>
<text x="848.07" y="546.0" font-size="7.2" fill="#131722" text-anchor="middle" font-weight="normal" >4</text>
<text x="6.30" y="11.1" font-size="7.8" fill="#1e1e1e" stroke="#1e1e1e" stroke-width="0.2" font-weight="normal" textLength="78.30" lengthAdjust="spacingAndGlyphs">Jerry-Chen created with</text>
<text x="86.60" y="11.1" font-size="7.8" fill="#1e1e1e" stroke="#1e1e1e" stroke-width="0.2" font-weight="normal" textLength="56.70" lengthAdjust="spacingAndGlyphs">TradingView.com,</text>
<text x="145.60" y="11.1" font-size="7.8" fill="#1e1e1e" stroke="#1e1e1e" stroke-width="0.2" font-weight="normal" textLength="83.20" lengthAdjust="spacingAndGlyphs">Sep 02, 2025 09:59 UTC+8</text>
<text x="11.20" y="27.2" font-size="7.6" fill="#131722" stroke="#131722" stroke-width="0.2" font-weight="normal" textLength="73.10" lengthAdjust="spacingAndGlyphs">Gold Spot / U.S. Dollar</text>
<text x="86.40" y="27.2" font-size="7.6" fill="#131722" stroke="#131722" stroke-width="0.2" font-weight="normal" textLength="1.80" lengthAdjust="spacingAndGlyphs">·</text>
<text x="92.30" y="27.2" font-size="7.6" fill="#131722" stroke="#131722" stroke-width="0.2" font-weight="normal" textLength="6.60" lengthAdjust="spacingAndGlyphs">1h</text>
<text x="101.90" y="27.2" font-size="7.6" fill="#131722" stroke="#131722" stroke-width="0.2" font-weight="normal" textLength="1.80" lengthAdjust="spacingAndGlyphs">·</text>
<text x="105.60" y="27.2" font-size="7.6" fill="#131722" stroke="#131722" stroke-width="0.2" font-weight="normal" textLength="35.10" lengthAdjust="spacingAndGlyphs">FOREXCOM</text>
<text x="145.90" y="27.2" font-size="7.6" fill="#131722" stroke="#131722" stroke-width="0.2" font-weight="normal" textLength="4.50" lengthAdjust="spacingAndGlyphs">O</text>
<text x="151.20" y="27.2" font-size="7.6" fill="#089981" stroke="#089981" stroke-width="0.2" font-weight="normal" textLength="26.40" lengthAdjust="spacingAndGlyphs">3,479.32</text>
<text x="183.30" y="27.2" font-size="7.6" fill="#131722" stroke="#131722" stroke-width="0.2" font-weight="normal" textLength="3.70" lengthAdjust="spacingAndGlyphs">H</text>
<text x="187.70" y="27.2" font-size="7.6" fill="#089981" stroke="#089981" stroke-width="0.2" font-weight="normal" textLength="27.00" lengthAdjust="spacingAndGlyphs">3,508.77</text>
<text x="219.80" y="27.2" font-size="7.6" fill="#131722" stroke="#131722" stroke-width="0.2" font-weight="normal" textLength="3.10" lengthAdjust="spacingAndGlyphs">L</text>
<text x="223.70" y="27.2" font-size="7.6" fill="#089981" stroke="#089981" stroke-width="0.2" font-weight="normal" textLength="27.20" lengthAdjust="spacingAndGlyphs">3,477.15</text>
<text x="255.80" y="27.2" font-size="7.6" fill="#131722" stroke="#131722" stroke-width="0.2" font-weight="normal" textLength="3.30" lengthAdjust="spacingAndGlyphs">C</text>
<text x="259.90" y="27.2" font-size="7.6" fill="#089981" stroke="#089981" stroke-width="0.2" font-weight="normal" textLength="27.10" lengthAdjust="spacingAndGlyphs">3,495.11</text>
<text x="292.40" y="27.2" font-size="7.6" fill="#089981" stroke="#089981" stroke-width="0.2" font-weight="normal" textLength="49.80" lengthAdjust="spacingAndGlyphs">+15.78 (+0.45%)</text>
<g fill="#131722"><path d="M7.1,565.1 H14.2 V573.8 H10.5 V568.8 H7.1 Z"/><circle cx="17.4" cy="567" r="1.6"/><path d="M20.7,565.1 H24.7 L21.7,573.8 H17.4 Z"/></g>
<text x="29.60" y="573.8" font-size="12.3" fill="#131722" stroke="#131722" stroke-width="0.2" font-weight="bold" textLength="71.38" lengthAdjust="spacingAndGlyphs">TradingView</text>
</svg>
</body></html>
